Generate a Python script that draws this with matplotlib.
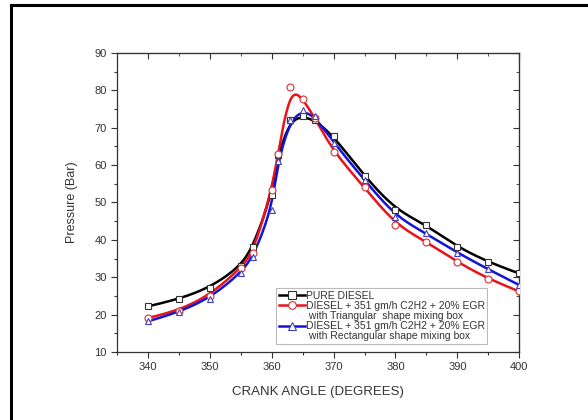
import numpy as np
import matplotlib
matplotlib.use("Agg")
import matplotlib.pyplot as plt
from matplotlib.ticker import MultipleLocator
from matplotlib.lines import Line2D

plt.rcParams['font.family'] = ['Liberation Sans', 'DejaVu Sans']

# crank angle (degrees)
angle = [340, 345, 350, 355, 357, 360, 361, 363, 365, 367, 370, 375, 380, 385, 390, 395, 400]
# pressure (bar)
pure_diesel = [22.2, 24.1, 27.0, 33.0, 38.2, 52.0, 62.7, 72.0, 73.0, 72.0, 67.8, 57.0, 48.0, 44.0, 38.0, 34.0, 31.0]
triangular = [19.1, 21.0, 25.0, 32.5, 36.5, 53.3, 63.0, 80.8, 77.8, 72.5, 63.5, 54.0, 44.0, 39.5, 34.0, 29.5, 26.2]
rectangular = [18.2, 20.6, 24.2, 31.2, 35.4, 48.0, 61.0, 72.0, 74.6, 73.0, 66.0, 56.0, 46.2, 41.7, 36.5, 32.1, 27.9]

labels = ["PURE DIESEL",
          "DIESEL + 351 gm/h C2H2 + 20% EGR",
          "DIESEL + 351 gm/h C2H2 + 20% EGR"]
sublabels = [None,
             " with Triangular  shape mixing box",
             " with Rectangular shape mixing box"]


def bspline(xs, ys, k=3, num=400):
    # clamped cubic B-spline using the points as control points (Origin style smoothing)
    P = np.column_stack([xs, ys])
    n = len(P)
    t = np.concatenate([np.zeros(k), np.linspace(0, 1, n - k + 1), np.ones(k)])
    u = np.linspace(0, 1, num)
    u[-1] -= 1e-9

    def N(i, p):
        if p == 0:
            return ((t[i] <= u) & (u < t[i + 1])).astype(float)
        a = 0.0
        b = 0.0
        if t[i + p] != t[i]:
            a = (u - t[i]) / (t[i + p] - t[i]) * N(i, p - 1)
        if t[i + p + 1] != t[i + 1]:
            b = (t[i + p + 1] - u) / (t[i + p + 1] - t[i + 1]) * N(i + 1, p - 1)
        return a + b

    curve = np.zeros((num, 2))
    for i in range(n):
        curve += N(i, k)[:, None] * P[i]
    return curve[:, 0], curve[:, 1]


fig = plt.figure(figsize=(5.88, 4.2), dpi=100)
ax = fig.add_axes([0.199, 0.162, 0.684, 0.712])

series = [(pure_diesel, 'black', 's', '#333333'),
          (triangular, '#e8141b', 'o', '#d43030'),
          (rectangular, '#1414d8', '^', '#4040c0')]

handles = []
for (vals, col, mk, mec), lab, sub in zip(series, labels, sublabels):
    sx, sy = bspline(angle, vals)
    ax.plot(sx, sy, color=col, lw=1.8, zorder=2)
    ax.plot(angle, vals, ls='none', marker=mk, ms=5, mfc='white', mec=mec, mew=0.8, zorder=3)
    handles.append(Line2D([], [], color=col, lw=1.8, marker=mk, ms=5.5, mfc='white', mec=mec, mew=0.8, label=lab))
    if sub:
        handles.append(Line2D([], [], color='none', label=sub))

ax.set_xlim(335, 400)
ax.set_ylim(10, 90)
ax.xaxis.set_major_locator(MultipleLocator(10))
ax.xaxis.set_minor_locator(MultipleLocator(5))
ax.yaxis.set_major_locator(MultipleLocator(10))
ax.yaxis.set_minor_locator(MultipleLocator(5))
ax.tick_params(which='both', direction='out', colors='#333333', labelsize=8)
ax.tick_params(which='major', length=4, width=0.8)
ax.tick_params(which='minor', length=2.5, width=0.8)

top = ax.secondary_xaxis('top')
top.xaxis.set_major_locator(MultipleLocator(10))
top.xaxis.set_minor_locator(MultipleLocator(5))
top.tick_params(which='both', direction='in', labeltop=False, colors='#333333')
top.tick_params(which='major', length=4)
top.tick_params(which='minor', length=2.5)
right = ax.secondary_yaxis('right')
right.yaxis.set_major_locator(MultipleLocator(10))
right.yaxis.set_minor_locator(MultipleLocator(5))
right.tick_params(which='both', direction='in', labelright=False, colors='#333333')
right.tick_params(which='major', length=4)
right.tick_params(which='minor', length=2.5)

for s in ax.spines.values():
    s.set_color('#333333')
    s.set_linewidth(0.9)

ax.set_xlabel("CRANK ANGLE (DEGREES)", fontsize=9.5, color='#333333', labelpad=10)
ax.set_ylabel("Pressure (Bar)", fontsize=9, color='#333333', labelpad=12)

leg = ax.legend(handles=handles, loc='upper left', bbox_to_anchor=(0.3955, 0.214),
                fontsize=7.5, frameon=True, fancybox=False, edgecolor='#aaaaaa',
                handlelength=2.5, handletextpad=0.1, borderpad=0.25, labelspacing=0.02,
                borderaxespad=0)
leg.get_frame().set_linewidth(0.8)
for txt in leg.get_texts():
    txt.set_color('#333333')

# outer frame around the picture
fig.add_artist(Line2D([11 / 588, 11 / 588], [0, 1 - 5 / 420], color='black', lw=2.2))
fig.add_artist(Line2D([11 / 588, 1], [1 - 5 / 420, 1 - 5 / 420], color='black', lw=2.2))

fig.savefig("out.png", dpi=100)
